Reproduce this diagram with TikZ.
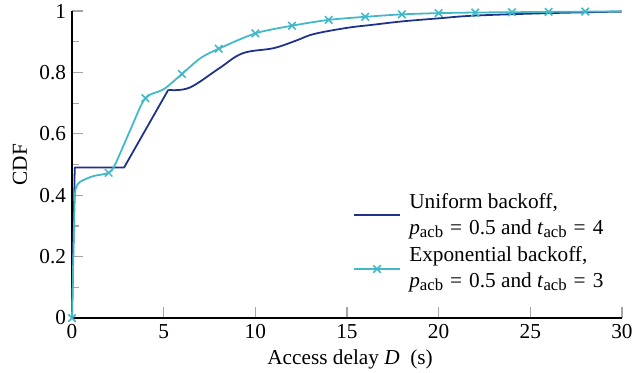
\documentclass[tikz,border=0pt]{standalone}
\usepackage{fontspec}
\setmainfont{Liberation Serif}
\usepackage{tikz}

\definecolor{unifblue}{RGB}{30,50,140}
\definecolor{expcyan}{RGB}{66,184,200}
\definecolor{tickgray}{RGB}{165,165,165}

\newcommand{\acbsub}{\raisebox{-1.6pt}{\fontsize{8.5}{10}\selectfont acb}}
\newcommand{\eqsign}{\hspace{0.32em}=\hspace{0.34em}}

\tikzset{
  axisline/.style={black, line width=0.7pt},
  tickline/.style={tickgray, line width=0.6pt},
  unifcurve/.style={unifblue, line width=0.9pt, line join=round},
  expcurve/.style={expcyan, line width=0.9pt, line join=round},
  expmark/.style={expcyan, line width=0.8pt},
  ticklabel/.style={inner sep=0pt},
  legendtext/.style={inner sep=0pt, anchor=base west}
}

\begin{document}
\begin{tikzpicture}[x=0.327cm, y=5.477cm, font=\fontsize{10.8}{13}\selectfont]
    \useasboundingbox (-3.928,-0.179) rectangle (30.55,1.0358);
    % ticks
    \foreach \t in {5,10,...,30}
        \draw[tickline] (\t,0) -- ++(0,0.196cm);
    \foreach \t in {2,4,...,10}
        \draw[tickline] (0,\t/10) -- ++(0.196cm,0);
    \foreach \t in {1,3,...,9}
        \draw[tickline] (0,\t/10) -- ++(0.125cm,0);
    \draw[axisline] (0,1) -- (0,0) -- (30,0);
    % tick labels
    \foreach \t in {0,5,...,30}
        \node[ticklabel, anchor=base] (xtick\t) at (\t,-0.066) {\t};
    \foreach \v [count=\i] in {0,0.2,0.4,0.6,0.8,1}
        \node[ticklabel, anchor=east, xshift=-0.1cm] (ytick\i) at (0,\v) {\v};
    \node[rotate=90] (ylabel) at (-2.84,0.5) {CDF};
    \node[anchor=base] (xlabel) at (15.17,-0.150) {Access delay \textit{D}\enspace(s)};
    % uniform backoff
    \draw[unifcurve] (0,0) -- (0.15,0.49) -- (2.84,0.49) -- (5.25,0.743)
        plot[smooth, tension=0.6] coordinates {(5.25,0.743) (6.4,0.75) (8.0,0.812)
        (9.3,0.862) (11,0.879) (12.2,0.903) (13.2,0.925) (15,0.945) (16.4,0.955)
        (18,0.966) (20,0.976) (22,0.985) (26,0.993) (30,0.998)};
    % exponential backoff
    \draw[expcurve] (0,0) -- (0.09,0.25)
        plot[smooth, tension=0.5] coordinates {(0.09,0.25) (0.16,0.40) (0.25,0.428)
        (0.45,0.444) (1.15,0.462) (2,0.473) (2.35,0.5) (3.2,0.615) (4,0.716)
        (5,0.745) (6,0.795) (7,0.846) (8,0.877) (10,0.927) (12,0.952) (14,0.971)
        (16,0.981) (18,0.989) (20,0.993) (22,0.995) (24,0.996) (26,0.997)
        (28,0.998) (30,0.999)};
    \foreach \px/\py in {0/0, 2/0.473, 4/0.716, 6/0.795, 8/0.877, 10/0.927,
        12/0.952, 14/0.971, 16/0.981, 18/0.989, 20/0.993, 22/0.995, 24/0.996,
        26/0.997, 28/0.998}
        \draw[expmark] (\px,\py) +(-1.9pt,-1.9pt) -- +(1.9pt,1.9pt)
            +(-1.9pt,1.9pt) -- +(1.9pt,-1.9pt);
    % legend
    \coordinate (unifA) at (15.38,0.3355);
    \coordinate (unifB) at (17.89,0.3355);
    \coordinate (expA) at (15.38,0.1596);
    \coordinate (expB) at (17.89,0.1596);
    \coordinate (expM) at (16.64,0.1596);
    \draw[unifcurve] (unifA) -- (unifB);
    \draw[expcurve] (expA) -- (expB);
    \draw[expmark] (expM) +(-1.9pt,-1.9pt) -- +(1.9pt,1.9pt)
        +(-1.9pt,1.9pt) -- +(1.9pt,-1.9pt);
    \node[legendtext] (unifname) at (18.38,0.357) {Uniform backoff,};
    \node[legendtext] (unifpar) at (18.38,0.2726)
        {\textit{p}\acbsub\eqsign 0.5 and \textit{t}\acbsub\eqsign 4};
    \node[legendtext] (expname) at (18.38,0.1834) {Exponential backoff,};
    \node[legendtext] (exppar) at (18.38,0.1000)
        {\textit{p}\acbsub\eqsign 0.5 and \textit{t}\acbsub\eqsign 3};
\end{tikzpicture}
\end{document}
